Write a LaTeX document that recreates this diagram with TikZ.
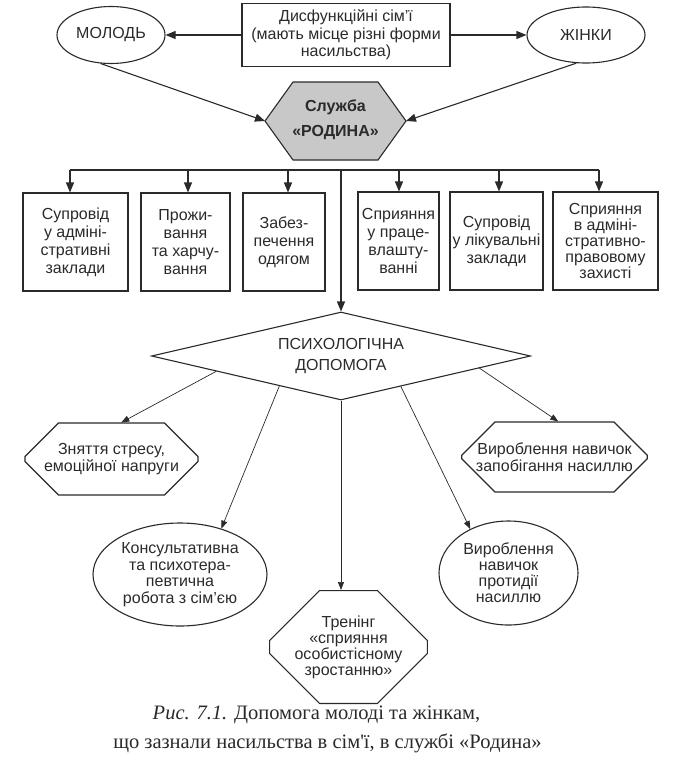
\documentclass[tikz,border=0pt]{standalone}
\usepackage{fontspec}
\setmainfont{Liberation Sans}
\newfontfamily\capfont{Liberation Serif}
\usetikzlibrary{arrows.meta,shapes.geometric,shapes.misc}
\definecolor{ink}{HTML}{2A2A2A}
\definecolor{hexgray}{HTML}{C8C8C8}
\begin{document}
\begin{tikzpicture}[x=1pt,y=-1pt,
  txt/.style={font=\fontsize{16}{18}\selectfont, text=ink, align=center, inner sep=0pt},
  ell/.style={txt, ellipse, draw=ink, line width=1.1pt},
  box/.style={txt, rectangle, draw=ink, line width=1.1pt},
  oct/.style={txt, chamfered rectangle, draw=ink, line width=1.1pt},
  arr/.style={draw=ink, line width=1.1pt, -{Triangle[length=10pt,width=8pt]}},
  thinarr/.style={draw=ink, line width=0.7pt, -{Triangle[length=8pt,width=6pt]}},
  captxt/.style={font=\capfont\fontsize{20.5}{22}\selectfont, text=ink, inner sep=0pt, anchor=base}
]
\useasboundingbox (0,0) rectangle (691,769);

% top row
\node[ell, minimum width=108pt, minimum height=57pt] (mol) at (111,35) {МОЛОДЬ};
\node[ell, minimum width=118pt, minimum height=56pt] (zhin) at (586,35) {ЖІНКИ};
\node[box, minimum width=208pt, minimum height=63pt, font=\fontsize{16}{17.5}\selectfont] (dys) at (346,35)
  {Дисфункційні сім'ї\\(мають місце різні форми\\насильства)};

% hexagon
\coordinate (hexW) at (265,121);
\coordinate (hexE) at (406,121);
\filldraw[fill=hexgray, draw=ink, line width=1.1pt]
  (hexW) -- (293,82) -- (378,82) -- (hexE) -- (378,160) -- (293,160) -- cycle;
\node[txt, font={\fontsize{16}{25}\selectfont\bfseries}] (hex) at (335.5,120) {Служба\\«РОДИНА»};

\draw[arr] (dys.west) -- (mol.east);
\draw[arr] (dys.east) -- (zhin.west);
\draw[arr] (mol.250) -- (hexW);
\draw[arr] (zhin.251) -- (hexE);

% service boxes
\node[box, minimum width=105pt, minimum height=98pt] (b1) at (75.5,242)
  {Супровід\\у адміні-\\стративні\\заклади};
\node[box, minimum width=89pt, minimum height=98pt] (b2) at (185.5,242)
  {Прожи-\\вання\\та харчу-\\вання};
\node[box, minimum width=82pt, minimum height=98pt] (b3) at (284,242)
  {Забез-\\печення\\одягом};
\node[box, minimum width=81pt, minimum height=98pt] (b4) at (398.5,241)
  {Сприяння\\у праце-\\влашту-\\ванні};
\node[box, minimum width=93pt, minimum height=98pt] (b5) at (496.5,241)
  {Супровід\\у лікувальні\\заклади};
\node[box, minimum width=105pt, minimum height=98pt, font=\fontsize{16}{16}\selectfont] (b6) at (605.5,241)
  {Сприяння\\в адміні-\\стративно-\\правовому\\захисті};

% bus
\coordinate (s1) at (70,170);
\coordinate (s2) at (188,170);
\coordinate (s3) at (288,170);
\coordinate (sc) at (341,170);
\coordinate (s4) at (399,170);
\coordinate (s5) at (499,170);
\coordinate (s6) at (599,170);
\draw[draw=ink, line width=1.1pt] (s1) -- (s6);
\draw[arr] (s1) -- (s1 |- b1.north);
\draw[arr] (s2) -- (s2 |- b2.north);
\draw[arr] (s3) -- (s3 |- b3.north);
\draw[arr] (s4) -- (s4 |- b4.north);
\draw[arr] (s5) -- (s5 |- b5.north);
\draw[arr] (s6) -- (s6 |- b6.north);

% diamond
\node[txt, diamond, aspect=4.3, draw=ink, line width=1.1pt, minimum width=379pt, minimum height=88pt,
  font=\fontsize{16}{21}\selectfont] (psy) at (341,356) {ПСИХОЛОГІЧНА\\ДОПОМОГА};
\draw[arr] (sc) -- (psy.north);

% children
\node[oct, minimum width=173pt, minimum height=72pt, chamfered rectangle xsep=18pt, chamfered rectangle ysep=18pt,
  font=\fontsize{16}{16.5}\selectfont] (z1) at (111.5,459) {Зняття стресу,\\емоційної напруги};
\node[ell, minimum width=174pt, minimum height=103pt, font=\fontsize{16}{16.5}\selectfont] (z2) at (180,574.5)
  {Консультативна\\та психотера-\\певтична\\робота з сім'єю};
\node[oct, minimum width=151pt, minimum height=96pt, chamfered rectangle xsep=25pt, chamfered rectangle ysep=25pt,
  font=\fontsize{16}{16}\selectfont] (z3) at (348.5,647)
  {Тренінг\\«сприяння\\особистісному\\зростанню»};
\node[ell, minimum width=139pt, minimum height=104pt, font=\fontsize{16}{16}\selectfont] (z4) at (508.5,573)
  {Вироблення\\навичок\\протидії\\насиллю};
\node[oct, minimum width=185pt, minimum height=70pt, chamfered rectangle xsep=19pt, chamfered rectangle ysep=19pt,
  font=\fontsize{16}{16.5}\selectfont] (z5) at (554.5,457)
  {Вироблення навичок\\запобігання насиллю};

\draw[thinarr] (psy.187) -- (z1.75);
\draw[thinarr] (psy.206) -- (z2.48);
\draw[thinarr] (psy.south) -- (psy.south |- z3.north);
\draw[thinarr] (psy.333) -- (z4.131);
\draw[thinarr] (psy.355) -- (z5.84);

% caption
\node[captxt] (cap1) at (316.5,719) {\textit{Рис. 7.1.} Допомога молоді та жінкам,};
\node[captxt] (cap2) at (327.5,748) {що зазнали насильства в сім'ї, в службі «Родина»};
\end{tikzpicture}
\end{document}
